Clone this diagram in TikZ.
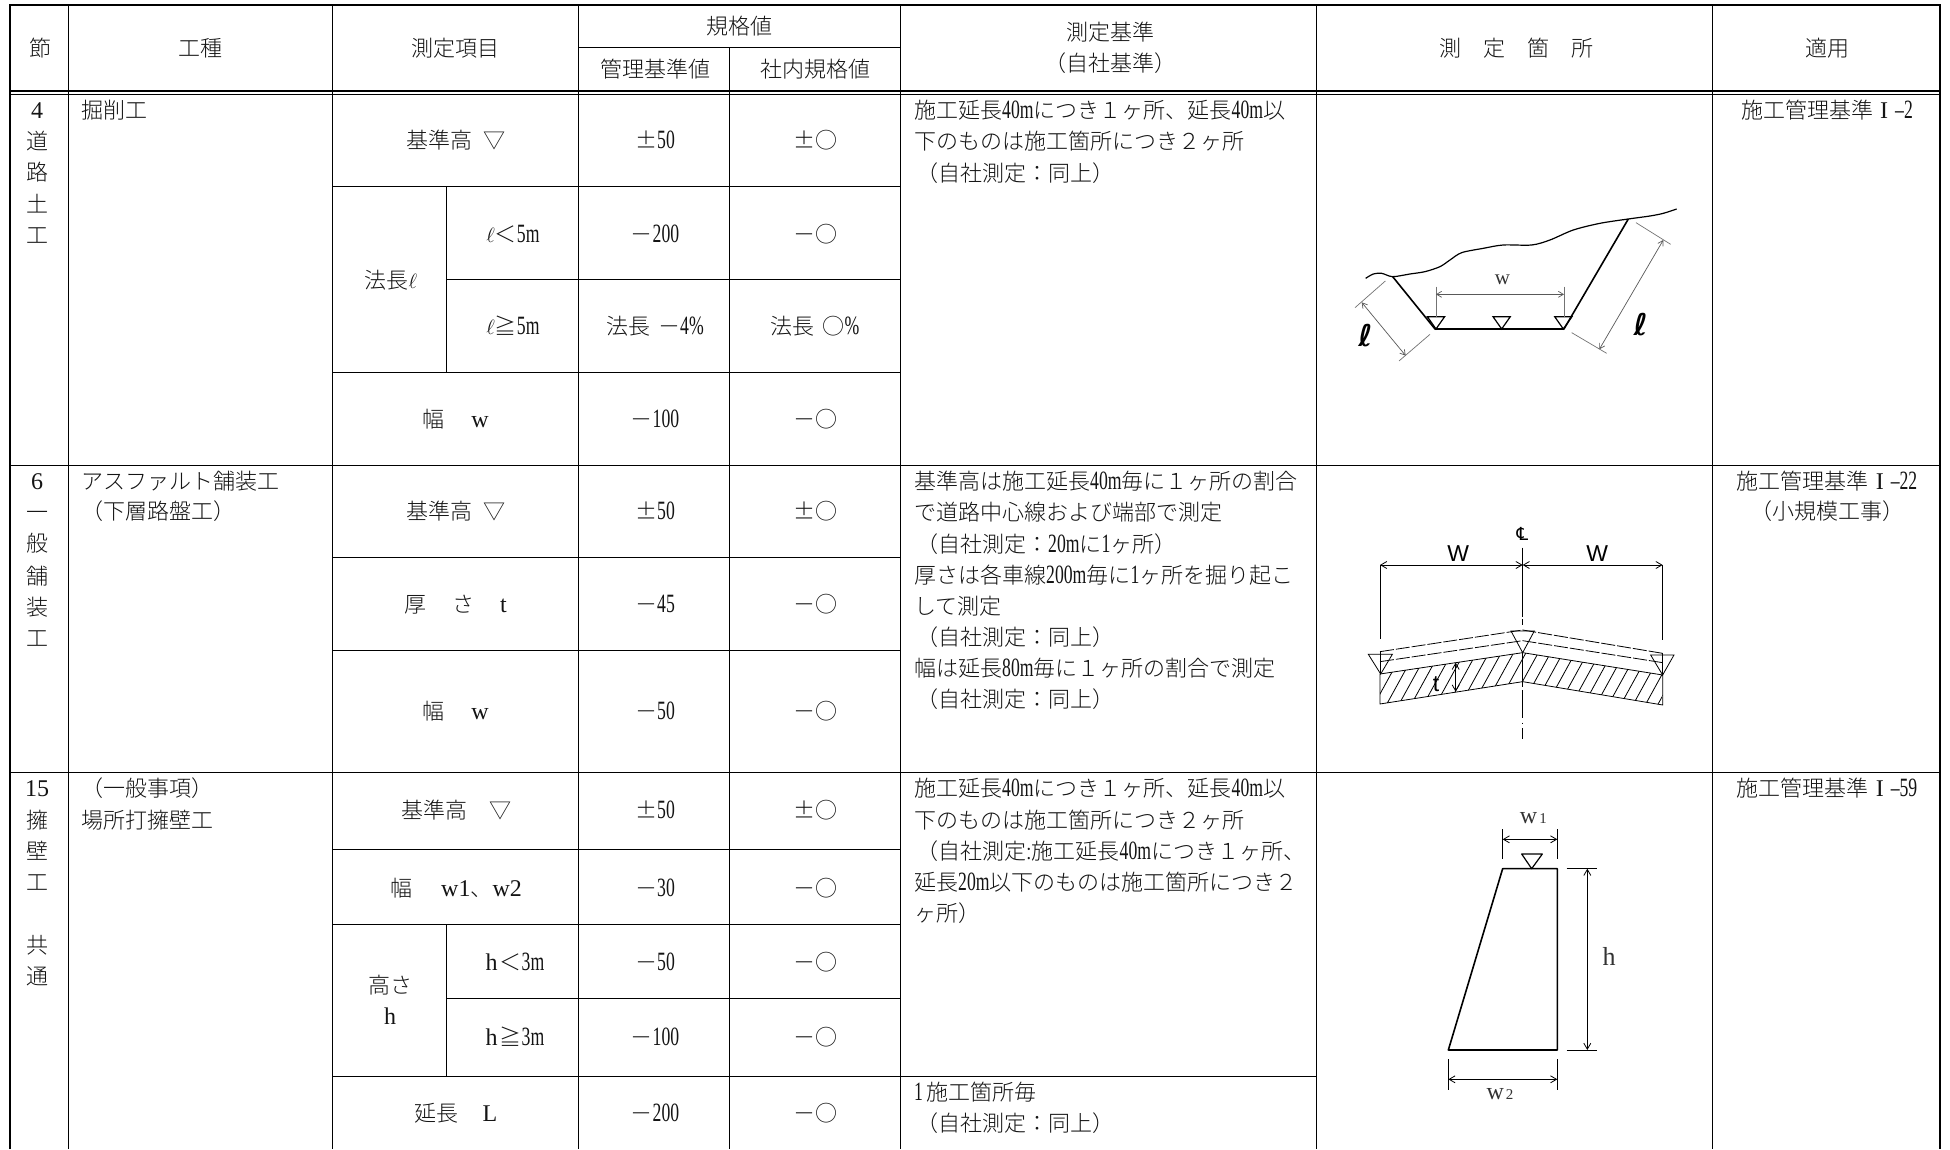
\documentclass[tikz,border=0pt]{standalone}
\usepackage{fontspec}
\usetikzlibrary{arrows.meta}
\setmainfont{Noto Sans CJK JP}[UprightFont=* Light]
\newfontfamily\latf[FakeStretch=.67,Scale=1.2]{Liberation Serif}
\newfontfamily\serf{Liberation Serif}
\newfontfamily\sanf{Liberation Sans}
\newfontfamily\dejf{DejaVu Sans}
\newcommand\Lt[1]{{\latf #1}}
\newcommand\Ls[1]{{\serf\fontsize{24}{26}\selectfont #1}}
\newcommand\Rm{\makebox[22pt]{\Ls{I}}\Lt{–}}
\newcounter{tn}
\newcommand\TC[3]{\stepcounter{tn}\node[cellc] (t\thetn) at (#1,#2) {#3};}
\newcommand\TL[3]{\stepcounter{tn}\node[celll] (t\thetn) at (#1,#2) {#3};}
\tikzset{
  txtbase/.style={inner sep=0pt,text height=20pt,text depth=3pt,font=\fontsize{22}{26}\selectfont,text=black!92},
  cellc/.style={txtbase,anchor=center},
  celll/.style={txtbase,anchor=west},
  thinln/.style={line width=1pt,black},
  boldln/.style={line width=2pt,black},
  cutln/.style={line width=1.6pt,black,line join=round},
  dimln/.style={line width=.7pt,black!55},
  dimtip/.style={{Straight Barb[length=5pt,width=6pt]}-{Straight Barb[length=5pt,width=6pt]},line width=.7pt,black!65},
  dimtipb/.style={{Straight Barb[length=6pt,width=7pt]}-{Straight Barb[length=6pt,width=7pt]},line width=.8pt,black},
  drw/.style={line width=.8pt,black},
  lab/.style={inner sep=0pt,text=black!80},
}
\begin{document}
\begin{tikzpicture}[x=1pt,y=-1pt]
\useasboundingbox (0,0) rectangle (1950,1149);
\fill[white] (0,0) rectangle (1950,1149);
% ---- table rules
\foreach \x in {68.5,332.5,578.5,900,1316,1712.5} \draw[thinln] (\x,5) -- (\x,1149);
\draw[thinln] (729,47.5) -- (729,1149);
\draw[thinln] (578.5,47.5) -- (900,47.5);
\draw[thinln] (446,186.3) -- (446,372.3);
\draw[thinln] (446,924) -- (446,1076);
\foreach \y in {186.3,372.3,557,650,849.5,924} \draw[thinln] (332.5,\y) -- (900,\y);
\foreach \y in {279.3,998.6} \draw[thinln] (446,\y) -- (900,\y);
\draw[thinln] (332.5,1076) -- (1316,1076);
\foreach \y in {465,772} \draw[thinln] (11,\y) -- (1940,\y);
\draw[boldln] (10,1149) -- (10,5) -- (1940,5) -- (1940,1149);
\draw[line width=1.6pt] (10,90.7) -- (1940,90.7);
\draw[line width=1.6pt] (10,94.3) -- (1940,94.3);
% ---- header
\TC{40}{48}{節}
\TC{200.5}{48}{工種}
\TC{455.5}{48}{測定項目}
\TC{739}{26}{規格値}
\TC{655}{69}{管理基準値}
\TC{815}{69}{社内規格値}
\TC{1110}{32}{測定基準}
\TC{1110}{63}{（自社基準）}
\TC{1516}{48}{測　定　箇　所}
\TC{1827}{48}{適用}
% ---- row 1
\TC{37}{110}{\Ls{4}}
\TC{37}{141}{道}
\TC{37}{172}{路}
\TC{37}{204}{土}
\TC{37}{235}{工}
\TL{81}{110}{掘削工}
\TC{455.5}{140}{基準高\hspace{11pt}▽}
\TC{655}{140}{±\Lt{50}}
\TC{815}{140}{±○}
\TC{391}{280}{法長$\ell$}
\TC{513}{234}{$\ell$＜\Lt{5m}}
\TC{655}{234}{－\Lt{200}}
\TC{815}{234}{－○}
\TC{513}{326}{$\ell$≧\Lt{5m}}
\TC{655}{326}{法長\hspace{8pt}－\Lt{4\%}}
\TC{815}{326}{法長\hspace{8pt}○\Lt{\%}}
\TC{455.5}{419}{幅\hspace{27pt}\Ls{w}}
\TC{655}{419}{－\Lt{100}}
\TC{815}{419}{－○}
\TL{914}{110}{施工延長\Lt{40m}につき１ヶ所、延長\Lt{40m}以}
\TL{914}{141}{下のものは施工箇所につき２ヶ所}
\TL{914}{173}{\hspace{2pt}（自社測定：同上）}
\TC{1827}{110}{施工管理基準\Rm\Lt{2}}
% ---- row 2
\TC{37}{481}{\Ls{6}}
\TC{37}{512}{一}
\TC{37}{543}{般}
\TC{37}{576}{舗}
\TC{37}{607}{装}
\TC{37}{638}{工}
\TL{81}{481}{アスファルト舗装工}
\TL{81}{511}{（下層路盤工）}
\TC{455.5}{511}{基準高\hspace{11pt}▽}
\TC{655}{511}{±\Lt{50}}
\TC{815}{511}{±○}
\TC{455.5}{604}{厚\hspace{26pt}さ\hspace{26pt}\Ls{t}}
\TC{655}{604}{－\Lt{45}}
\TC{815}{604}{－○}
\TC{455.5}{711}{幅\hspace{27pt}\Ls{w}}
\TC{655}{711}{－\Lt{50}}
\TC{815}{711}{－○}
\TL{914}{481}{基準高は施工延長\Lt{40m}毎に１ヶ所の割合}
\TL{914}{512}{で道路中心線および端部で測定}
\TL{914}{543.5}{\hspace{2pt}（自社測定：\Lt{20m}に\Lt{1}ヶ所）}
\TL{914}{574.5}{厚さは各車線\Lt{200m}毎に\Lt{1}ヶ所を掘り起こ}
\TL{914}{605.5}{して測定}
\TL{914}{636.5}{\hspace{2pt}（自社測定：同上）}
\TL{914}{668}{幅は延長\Lt{80m}毎に１ヶ所の割合で測定}
\TL{914}{699}{\hspace{2pt}（自社測定：同上）}
\TC{1827}{481}{施工管理基準\Rm\Lt{22}}
\TC{1827}{511}{（小規模工事）}
% ---- row 3
\TC{37}{788}{\Ls{15}}
\TC{37}{820}{擁}
\TC{37}{851}{壁}
\TC{37}{882}{工}
\TC{37}{945}{共}
\TC{37}{976}{通}
\TL{81}{788}{（一般事項）}
\TL{81}{820}{場所打擁壁工}
\TC{456}{810}{基準高　▽}
\TC{655}{810}{±\Lt{50}}
\TC{815}{810}{±○}
\TC{456}{888}{幅\hspace{29pt}\Ls{w1}、\Ls{w2}}
\TC{655}{888}{－\Lt{30}}
\TC{815}{888}{－○}
\TC{390}{985}{高さ}
\TC{390}{1016}{\Ls{h}}
\TC{515}{962}{\Ls{h}\hspace{2pt}＜\Lt{3m}}
\TC{655}{962}{－\Lt{50}}
\TC{815}{962}{－○}
\TC{515}{1037}{\Ls{h}\hspace{2pt}≧\Lt{3m}}
\TC{655}{1037}{－\Lt{100}}
\TC{815}{1037}{－○}
\TC{456}{1113}{延長\hspace{24pt}\Ls{L}}
\TC{655}{1113}{－\Lt{200}}
\TC{815}{1113}{－○}
\TL{914}{788}{施工延長\Lt{40m}につき１ヶ所、延長\Lt{40m}以}
\TL{914}{820}{下のものは施工箇所につき２ヶ所}
\TL{914}{851}{\hspace{2pt}（自社測定:施工延長\Lt{40m}につき１ヶ所、}
\TL{914}{882}{延長\Lt{20m}以下のものは施工箇所につき２}
\TL{914}{913}{ヶ所）}
\TL{914}{1092}{\Lt{1}\hspace{3pt}施工箇所毎}
\TL{914}{1123}{\hspace{2pt}（自社測定：同上）}
\TC{1827}{788}{施工管理基準\Rm\Lt{59}}
% ---- drawing 1
\begin{scope}[shift={(1310,90)},x=.3333pt,y=-.3333pt]
\draw[line width=1.2pt,line join=round] plot[smooth,tension=.5] coordinates {(167,565)(190,552)(215,550)(248,560)(300,552)(345,545)(390,530)(420,510)(455,488)(520,475)(580,465)(665,465)(720,450)(790,420)(870,400)(955,387)(1020,378)(1060,370)(1100,357)};
\draw[cutln] (248,560) -- (375,717) -- (762,717) -- (955,387);
\foreach \a in {378,575,760} \draw[line width=1.2pt] (\a-26,680) -- (\a+26,680) -- (\a,717) -- cycle;
\draw[dimln] (378,590) -- (378,680);
\draw[dimln] (762,590) -- (762,680);
\coordinate (wa) at (378,613); \coordinate (wb) at (762,613);
\draw[dimtip] (wa) -- (wb);
\node[lab,font=\serf\fontsize{21}{22}\selectfont] (wt) at (577,568) {w};
\draw[dimln] (226,573) -- (135,653);
\draw[dimln] (360,733) -- (267,813);
\coordinate (la) at (155,637); \coordinate (lb) at (287,797);
\draw[dimtip] (la) -- (lb);
\node[lab,text=black,font=\dejf\bfseries\fontsize{30}{32}\selectfont] (lt1) at (166,736) {ℓ};
\draw[dimln] (978,398) -- (1082,463);
\draw[dimln] (785,728) -- (890,790);
\coordinate (ra) at (1060,450); \coordinate (rb) at (868,778);
\draw[dimtip] (ra) -- (rb);
\node[lab,text=black,font=\dejf\bfseries\fontsize{30}{32}\selectfont] (lt2) at (992,703) {ℓ};
\end{scope}
% ---- drawing 2
\begin{scope}[shift={(1340,510)},x=.3333pt,y=-.3333pt]
\begin{scope}
\clip (120,492) -- (548,428) -- (968,495) -- (968,585) -- (548,515) -- (120,582) -- cycle;
\foreach \h in {-60,-23,...,1000} \draw[drw] (\h,610) -- (\h+110,410);
\end{scope}
\draw[drw,fill=none] (120,492) -- (548,428) -- (968,495) -- (968,585) -- (548,515) -- (120,582) -- cycle;
\draw[drw,dash pattern=on 14pt off 2pt] (120,425) -- (548,360) -- (968,430);
\draw[drw,dash pattern=on 14pt off 2pt] (120,455) -- (548,392) -- (968,458);
\draw[drw] (120,165) -- (120,388);
\draw[drw] (968,165) -- (968,390);
\draw[drw] (120,425) -- (120,492);
\draw[drw] (968,430) -- (968,495);
\draw[drw] (85,433) -- (157,433) -- (122,492) -- cycle;
\draw[drw] (513,363) -- (583,363) -- (548,428) -- cycle;
\draw[drw] (932,435) -- (1002,435) -- (968,495) -- cycle;
\coordinate (da) at (120,165); \coordinate (dc) at (548,165); \coordinate (db) at (968,165);
\draw[dimtipb] (da) -- (dc);
\draw[dimtipb] (dc) -- (db);
\draw[line width=1.2pt] (548,113) -- (548,320);
\draw[drw] (548,328) -- (548,345);
\draw[drw] (548,430) -- (548,530);
\draw[drw] (548,540) -- (548,625);
\draw[drw] (548,638) -- (548,642);
\draw[drw] (548,655) -- (548,688);
\coordinate (ta) at (347,458); \coordinate (tb) at (347,545);
\draw[dimtipb] (ta) -- (tb);
\node[lab,text=black,font=\sanf\fontsize{23}{24}\selectfont] (w1) at (355,132) {W};
\node[lab,text=black,font=\sanf\fontsize{23}{24}\selectfont] (w2) at (772,130) {W};
\node[lab,text=black,font=\sanf\fontsize{23}{24}\selectfont] (tt) at (288,522) {t};
\node[lab,text=black,font=\dejf\fontsize{18}{20}\selectfont] (cl) at (547,72) {℄};
\end{scope}
% ---- drawing 3
\begin{scope}[shift={(1400,790)},x=.3333pt,y=-.3333pt]
\draw[cutln] (308,236) -- (472,236) -- (472,780) -- (145,780) -- cycle;
\draw[line width=1.2pt,line join=round] (365,192) -- (427,192) -- (395,236) -- cycle;
\draw[drw] (308,117) -- (308,208);
\draw[drw] (472,117) -- (472,208);
\coordinate (a1) at (308,148); \coordinate (a2) at (472,148);
\draw[dimtipb] (a1) -- (a2);
\draw[drw] (500,236) -- (592,236);
\draw[drw] (500,780) -- (592,780);
\coordinate (h1) at (562,236); \coordinate (h2) at (562,780);
\draw[dimtipb] (h1) -- (h2);
\draw[drw] (145,808) -- (145,900);
\draw[drw] (472,808) -- (472,900);
\coordinate (b1) at (145,868); \coordinate (b2) at (472,868);
\draw[dimtipb] (b1) -- (b2);
\node[lab,font=\serf\fontsize{24}{24}\selectfont] (w1l) at (400,84) {w\hspace{2pt}{\fontsize{15}{15}\selectfont 1}};
\node[lab,font=\serf\fontsize{26}{26}\selectfont] (hl) at (627,500) {h};
\node[lab,font=\serf\fontsize{24}{24}\selectfont] (w2l) at (300,912) {w\hspace{2pt}{\fontsize{15}{15}\selectfont 2}};
\end{scope}
\end{tikzpicture}
\end{document}
